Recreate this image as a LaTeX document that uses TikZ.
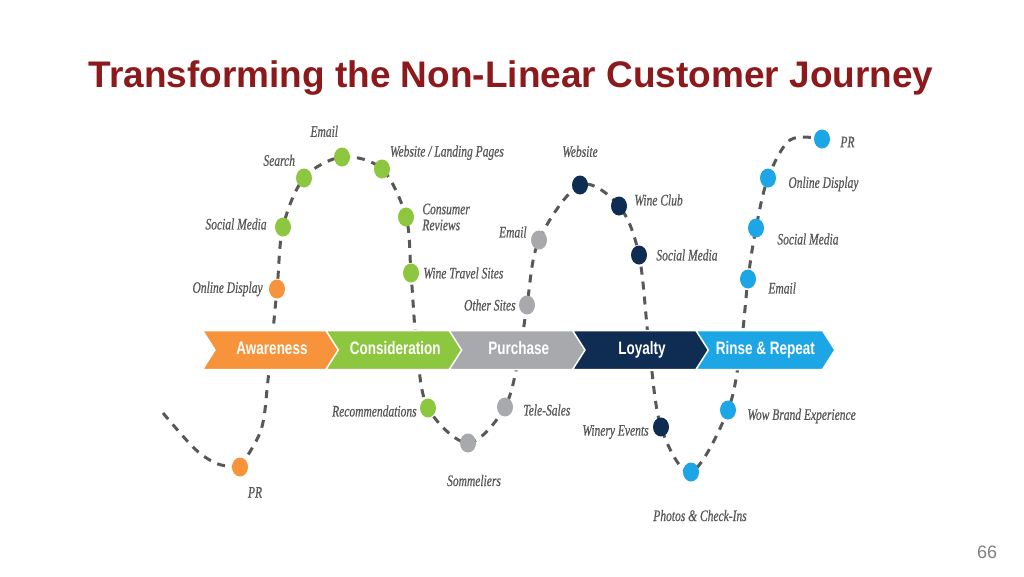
\documentclass[tikz,border=0pt]{standalone}
\usepackage{fontspec}
\setmainfont{Liberation Serif}
\usetikzlibrary{positioning, shapes.symbols, shapes.geometric, backgrounds}
\newfontfamily\lblfont{Liberation Serif}[FakeStretch=0.72, FakeBold=0.6]
\newfontfamily\stagefont{Liberation Sans}[FakeStretch=0.75]
\newfontfamily\titlefont{Liberation Sans}
\definecolor{cTitle}{HTML}{8C1A1C}
\definecolor{cAWR}{HTML}{F7933A}
\definecolor{cCON}{HTML}{8DC63F}
\definecolor{cPUR}{HTML}{A7A9AC}
\definecolor{cLOY}{HTML}{0F2D52}
\definecolor{cRNS}{HTML}{1DA6E6}
\definecolor{cTRL}{HTML}{585858}
\tikzset{
  stagebox/.style={
    shape=signal, signal from=west, signal to=east,
    signal pointer angle=115,
    fill=#1, draw=white, line width=1.5pt,
    minimum width=139pt, minimum height=39pt,
    inner sep=0pt, text=white,
    text height=12.5pt, text depth=3pt,
    font=\stagefont\bfseries\fontsize{18}{18}\selectfont
  },
  touchdot/.style={
    ellipse, fill=#1, draw=none,
    minimum width=16pt, minimum height=19pt,
    inner sep=0pt
  },
  touchlbl/.style={
    font=\lblfont\itshape\fontsize{16}{16}\selectfont,
    text=black!66, inner sep=0pt, align=left
  },
  trail/.style={
    draw=cTRL, line width=3pt,
    dash pattern=on 8pt off 7pt
  }
}

\begin{document}
\begin{tikzpicture}[x=1pt, y=-1pt]
  \useasboundingbox (0,0) rectangle (1024,576);

  \node[font=\titlefont\bfseries\fontsize{37}{40}\selectfont, text=cTitle] (title) at (511,78) {Transforming the Non-Linear Customer Journey};

  % stages
  \node[stagebox=cAWR] (aware) at (272,350) {Awareness};
  \node[stagebox=cCON, right=-5pt of aware] (consid) {Consideration};
  \node[stagebox=cPUR, right=-5pt of consid] (purch) {Purchase};
  \node[stagebox=cLOY, right=-5pt of purch] (loyal) {Loyalty};
  \node[stagebox=cRNS, right=-5pt of loyal] (rinse) {Rinse \& Repeat};

  % awareness
  \node[touchdot=cAWR] (pr1) at (240,467) {};
  \node[touchdot=cAWR] (od1) at (277,289) {};
  \node[touchlbl, below right=13pt and 2pt of pr1] (pr1l) {PR};
  \node[touchlbl, left=6pt of od1] (od1l) {Online Display};

  % consideration
  \node[touchdot=cCON] (sm1) at (283,227) {};
  \node[touchdot=cCON] (se1) at (304,178) {};
  \node[touchdot=cCON] (em1) at (342,157) {};
  \node[touchdot=cCON] (wl1) at (382,169) {};
  \node[touchdot=cCON] (cr1) at (406,217) {};
  \node[touchdot=cCON] (wt1) at (411,273) {};
  \node[touchdot=cCON] (re1) at (428,408) {};
  \node[touchlbl, left=8pt of sm1, yshift=3pt] (sm1l) {Social Media};
  \node[touchlbl, above left=5pt and 3pt of se1] (se1l) {Search};
  \node[touchlbl, above left=13pt and -2pt of em1] (em1l) {Email};
  \node[touchlbl, above right=2pt and 2pt of wl1] (wl1l) {Website / Landing Pages};
  \node[touchlbl, right=8pt of cr1] (cr1l) {Consumer\\Reviews};
  \node[touchlbl, right=4pt of wt1] (wt1l) {Wine Travel Sites};
  \node[touchlbl, left=3pt of re1, yshift=-3pt] (re1l) {Recommendations};

  % purchase
  \node[touchdot=cPUR] (so2) at (468,443) {};
  \node[touchdot=cPUR] (ts2) at (505,407) {};
  \node[touchdot=cPUR] (os2) at (527,305) {};
  \node[touchdot=cPUR] (em2) at (539,240) {};
  \node[touchlbl, below=22pt of so2, xshift=6pt] (so2l) {Sommeliers};
  \node[touchlbl, right=10pt of ts2, yshift=-3pt] (ts2l) {Tele-Sales};
  \node[touchlbl, left=3pt of os2] (os2l) {Other Sites};
  \node[touchlbl, left=4pt of em2, yshift=8pt] (em2l) {Email};

  % loyalty
  \node[touchdot=cLOY] (ws4) at (580,185) {};
  \node[touchdot=cLOY] (wc4) at (619,206) {};
  \node[touchdot=cLOY] (sm4) at (639,255) {};
  \node[touchdot=cLOY] (we4) at (661,427) {};
  \node[touchlbl, above=18pt of ws4] (ws4l) {Website};
  \node[touchlbl, right=7pt of wc4, yshift=6pt] (wc4l) {Wine Club};
  \node[touchlbl, right=9pt of sm4] (sm4l) {Social Media};
  \node[touchlbl, left=4pt of we4, yshift=-5pt] (we4l) {Winery Events};

  % rinse & repeat
  \node[touchdot=cRNS] (ph5) at (691,472) {};
  \node[touchdot=cRNS] (wb5) at (728,410) {};
  \node[touchdot=cRNS] (em5) at (748,279) {};
  \node[touchdot=cRNS] (sm5) at (756,228) {};
  \node[touchdot=cRNS] (od5) at (768,178) {};
  \node[touchdot=cRNS] (pr5) at (822,139) {};
  \node[touchlbl, below=28pt of ph5, xshift=9pt] (ph5l) {Photos \& Check-Ins};
  \node[touchlbl, right=11pt of wb5, yshift=-6pt] (wb5l) {Wow Brand Experience};
  \node[touchlbl, right=12pt of em5, yshift=-9pt] (em5l) {Email};
  \node[touchlbl, right=13pt of sm5, yshift=-11pt] (sm5l) {Social Media};
  \node[touchlbl, right=12pt of od5, yshift=-6pt] (od5l) {Online Display};
  \node[touchlbl, right=10pt of pr5, yshift=-3pt] (pr5l) {PR};

  \node[font=\titlefont\fontsize{18}{18}\selectfont, text=black!50] (page) at (987,552) {66};

  % journey trail
  \coordinate (t0) at (163,413);
  \coordinate (t1) at (195,449);
  \coordinate (t1b) at (218,464);
  \coordinate (t2) at (261,430);
  \coordinate (t2b) at (268,380);
  \coordinate (t3) at (417,350);
  \coordinate (t4) at (520,350);
  \coordinate (t5) at (649,345);
  \coordinate (t6) at (741,345);
  \coordinate (t7) at (790,140);
  \begin{scope}[on background layer]
    \draw[trail] plot[smooth, tension=0.55] coordinates {(t0) (t1) (t1b) (pr1)}
      plot[smooth, tension=0.55] coordinates {(pr1) (t2) (t2b) (od1) (sm1) (se1) (em1) (wl1) (cr1) (wt1) (t3) (re1) (so2) (ts2) (t4) (os2) (em2) (ws4) (wc4) (sm4) (t5) (we4) (ph5) (wb5) (t6) (em5) (sm5) (od5) (t7) (pr5)};
  \end{scope}
\end{tikzpicture}
\end{document}
